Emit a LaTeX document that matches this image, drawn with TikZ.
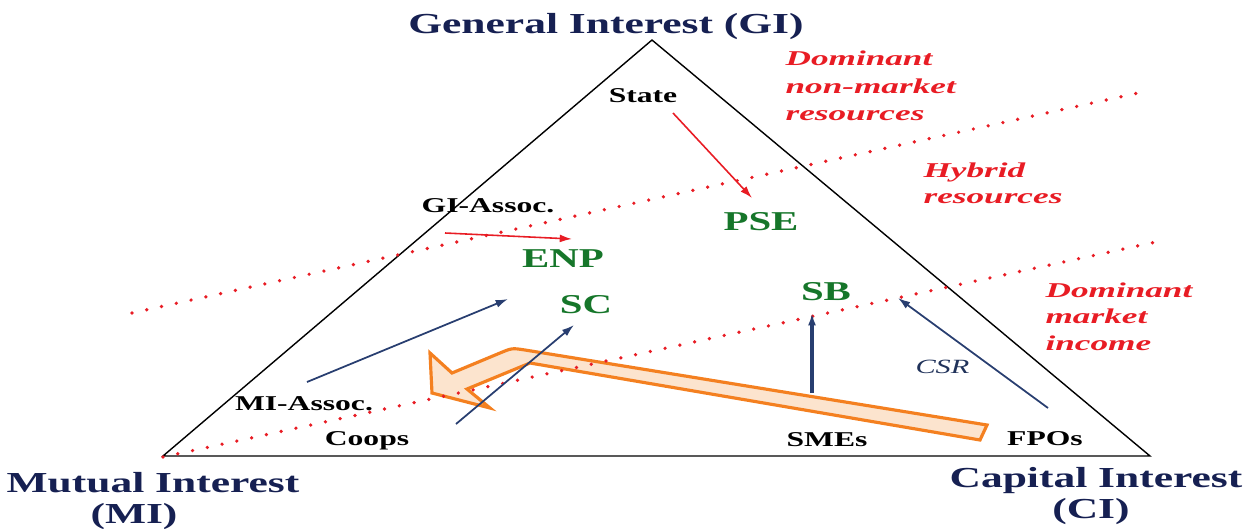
\documentclass[tikz,border=0pt]{standalone}
\usepackage{fontspec}
\setmainfont{Liberation Serif}
\usetikzlibrary{arrows.meta}
\definecolor{titlenavy}{RGB}{22,32,82}
\definecolor{arrownavy}{RGB}{40,62,112}
\definecolor{dgreen}{RGB}{22,118,42}
\definecolor{tred}{RGB}{232,28,36}
\definecolor{orng}{RGB}{244,128,32}
\definecolor{peach}{RGB}{252,228,206}
\begin{document}
\begin{tikzpicture}[x=0.02cm,y=-0.02cm,
  txt/.style={inner sep=0pt, xscale=1.5},
  title/.style={txt, text=titlenavy, font=\bfseries\fontsize{16.5}{18}\selectfont, anchor=base},
  actor/.style={txt, text=black, font=\bfseries\fontsize{12}{14}\selectfont, anchor=base},
  org/.style={txt, text=dgreen, font=\bfseries\fontsize{15.5}{17}\selectfont, anchor=base},
  zone/.style={txt, xscale=1.67/1.5, text=tred, font=\bfseries\itshape\fontsize{12}{14}\selectfont, anchor=base west},
  tri/.style={draw=black, line width=0.8pt},
  zoneline/.style={draw=tred, line width=2.1pt, line cap=round, dash pattern=on 0pt off 8.6pt},
  redarrow/.style={draw=tred, line width=0.9pt, -{Latex[length=7pt,width=4.5pt]}},
  bluearrow/.style={draw=arrownavy, line width=1pt, -{Latex[length=7pt,width=4.5pt]}},
  bigarrow/.style={draw=orng, line width=1.8pt, fill=peach, line join=miter}
]
\useasboundingbox (0,0) rectangle (1252,528);

% triangle
\coordinate (gi) at (652,40);
\coordinate (mi) at (163,456);
\coordinate (ci) at (1150,456);
\draw[tri] (gi) -- (mi) -- (ci) -- cycle;

% big orange arrow (drawn below the rest)
\draw[bigarrow] (987,425) -- (980,440) -- (530,363) -- (467,389) -- (490,408)
  -- (432,393) -- (430,353) -- (452,373) -- (500,353)
  .. controls (512,348) .. (525,350) -- cycle;

% zone boundaries
\coordinate (z1a) at (132,313);
\coordinate (z1b) at (1138,93);
\coordinate (z2a) at (163,457);
\coordinate (z2b) at (1165,240);
\draw[zoneline] (z1a) -- (z1b);
\draw[zoneline] (z2a) -- (z2b);

% titles
\node[title] (tgi) at (606,33) {General Interest (GI)};
\node[title] (tmi1) at (153,492) {Mutual Interest};
\node[title] (tmi2) at (134,523) {(MI)};
\node[title] (tci1) at (1096,487) {Capital Interest};
\node[title] (tci2) at (1091,518) {(CI)};

% actors
\node[actor] (state) at (643,102) {State};
\node[actor] (giassoc) at (488,212) {GI-Assoc.};
\node[actor] (miassoc) at (304,410) {MI-Assoc.};
\node[actor] (coops) at (367,445) {Coops};
\node[actor] (smes) at (827,446) {SMEs};
\node[actor] (fpos) at (1045,445) {FPOs};

% organisations
\node[org] (pse) at (761,230) {PSE};
\node[org] (enp) at (563,267) {ENP};
\node[org] (sc) at (586,313) {SC};
\node[org] (sb) at (826,300) {SB};

% zone labels
\node[zone] (z1t1) at (785,65) {Dominant};
\node[zone] (z1t2) at (785,93) {non-market};
\node[zone] (z1t3) at (785,120) {resources};
\node[zone] (z2t1) at (923,177) {Hybrid};
\node[zone] (z2t2) at (923,203) {resources};
\node[zone] (z3t1) at (1045,297) {Dominant};
\node[zone] (z3t2) at (1045,323) {market};
\node[zone] (z3t3) at (1045,350) {income};

\node[txt, anchor=base west, text=arrownavy!80!black, font=\itshape\fontsize{11.5}{13}\selectfont] (csr) at (915,373) {CSR};

% arrow end points
\coordinate (stateS) at (673,113);
\coordinate (pseN) at (752,198);
\coordinate (giE) at (445,233);
\coordinate (enpN) at (572,239);
\coordinate (miE) at (307,382);
\coordinate (enpW) at (508,299);
\coordinate (coopsN) at (456,424);
\coordinate (scS) at (574,325);
\coordinate (smesN) at (812,393);
\coordinate (sbS) at (812,313);
\coordinate (fposN) at (1048,408);
\coordinate (sbE) at (898,298);

\draw[redarrow] (stateS) -- (pseN);
\draw[redarrow] (giE) -- (enpN);
\draw[bluearrow] (miE) -- (enpW);
\draw[bluearrow] (coopsN) -- (scS);
\draw[bluearrow, line width=1.8pt] (smesN) -- (sbS);
\draw[bluearrow] (fposN) -- (sbE);
\end{tikzpicture}
\end{document}
